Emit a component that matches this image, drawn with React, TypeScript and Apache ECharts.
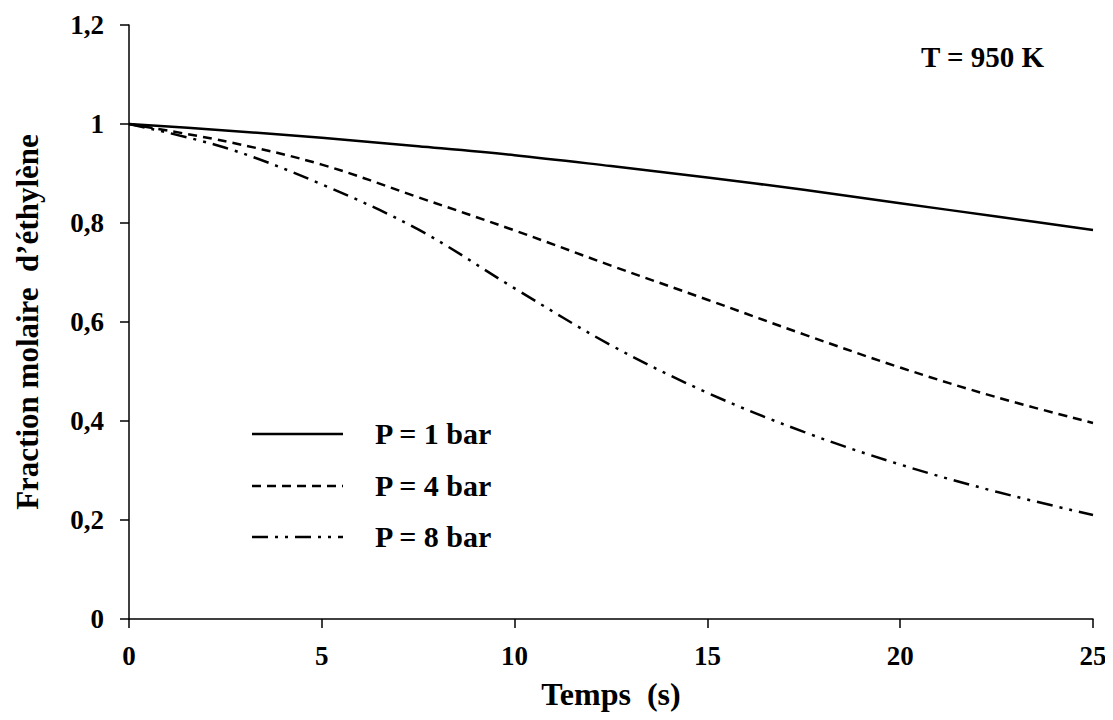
import React, { useEffect, useRef } from "react";
import * as echarts from "echarts";

const times = [0, 2.5, 5, 7.5, 10, 12.5, 15, 17.5, 20, 22.5, 25];
const p1 = [1, 0.987, 0.972, 0.955, 0.937, 0.915, 0.892, 0.867, 0.84, 0.813, 0.786];
const p4 = [1, 0.965, 0.918, 0.852, 0.785, 0.714, 0.645, 0.575, 0.508, 0.448, 0.396];
const p8 = [1, 0.952, 0.878, 0.787, 0.668, 0.553, 0.457, 0.378, 0.312, 0.257, 0.21];
const seriesNames = ["P = 1 bar", "P = 4 bar", "P = 8 bar"];
const xTicks = [0, 5, 10, 15, 20, 25];
const yTicks = [0, 0.2, 0.4, 0.6, 0.8, 1, 1.2];

const FONT = "'Liberation Serif', 'Times New Roman', serif";
const dashes: (number[] | "solid")[] = ["solid", [9, 6], [16, 7, 3, 7, 3, 7]];

export default function App() {
  const ref = useRef<HTMLDivElement>(null);
  useEffect(() => {
    if (!ref.current) return;
    const chart = echarts.init(ref.current, undefined, { renderer: "svg" });
    const all = [p1, p4, p8];
    const legendY = [426, 478, 529];
    const graphics: any[] = [
      {
        type: "text",
        x: 913,
        y: 49,
        style: {
          text: "T = 950 K",
          font: `bold 29px ${FONT}`,
          fill: "#000",
          verticalAlign: "middle",
        },
      },
    ];
    seriesNames.forEach((n, i) => {
      graphics.push({
        type: "line",
        shape: { x1: 244, y1: legendY[i], x2: 335, y2: legendY[i] },
        style: {
          stroke: "#000",
          lineWidth: 2.5,
          lineDash: dashes[i] === "solid" ? null : (dashes[i] as number[]),
        },
      });
      graphics.push({
        type: "text",
        x: 367,
        y: legendY[i] - 1,
        style: {
          text: n,
          font: `bold 30px ${FONT}`,
          fill: "#000",
          verticalAlign: "middle",
        },
      });
    });
    chart.setOption({
      animation: false,
      backgroundColor: "#fff",
      textStyle: { fontFamily: FONT },
      grid: {
        left: 121,
        right: 12,
        top: 17,
        bottom: 93,
        containLabel: false,
        outerBoundsMode: "none",
      },
      xAxis: {
        type: "value",
        min: 0,
        max: 25,
        interval: 5,
        name: "Temps  (s)",
        nameLocation: "middle",
        nameGap: 59,
        nameTextStyle: { fontFamily: FONT, fontWeight: "bold", fontSize: 32, color: "#000" },
        axisLine: { show: true, onZero: false, lineStyle: { color: "#000", width: 1.5 } },
        axisTick: { show: true, inside: false, length: 9, lineStyle: { color: "#000", width: 1.5 } },
        axisLabel: {
          fontFamily: FONT,
          fontWeight: "bold",
          fontSize: 27,
          color: "#000",
          margin: 23,
          customValues: xTicks,
        },
        splitLine: { show: false },
      },
      yAxis: {
        type: "value",
        min: 0,
        max: 1.2,
        interval: 0.2,
        name: "Fraction molaire  d’éthylène",
        nameLocation: "middle",
        nameGap: 86,
        nameTextStyle: { fontFamily: FONT, fontWeight: "bold", fontSize: 31, color: "#000" },
        axisLine: { show: true, lineStyle: { color: "#000", width: 1.5 } },
        axisTick: { show: true, inside: false, length: 9, lineStyle: { color: "#000", width: 1.5 } },
        axisLabel: {
          fontFamily: FONT,
          fontWeight: "bold",
          fontSize: 27,
          color: "#000",
          margin: 25,
          formatter: (v: number) => {
            const t = yTicks.find((k) => Math.abs(k - v) < 1e-6);
            return t === undefined ? "" : String(Math.round(t * 10) / 10).replace(".", ",");
          },
        },
        splitLine: { show: false },
      },
      series: all.map((d, i) => ({
        name: seriesNames[i],
        type: "line",
        smooth: 0.35,
        symbol: "none",
        data: times.map((t, j) => [t, d[j]]),
        lineStyle: { color: "#000", width: 2.5, type: dashes[i] },
      })),
      graphic: graphics,
    });
    return () => chart.dispose();
  }, []);
  return <div ref={ref} style={{ width: 1097, height: 704 }} />;
}
